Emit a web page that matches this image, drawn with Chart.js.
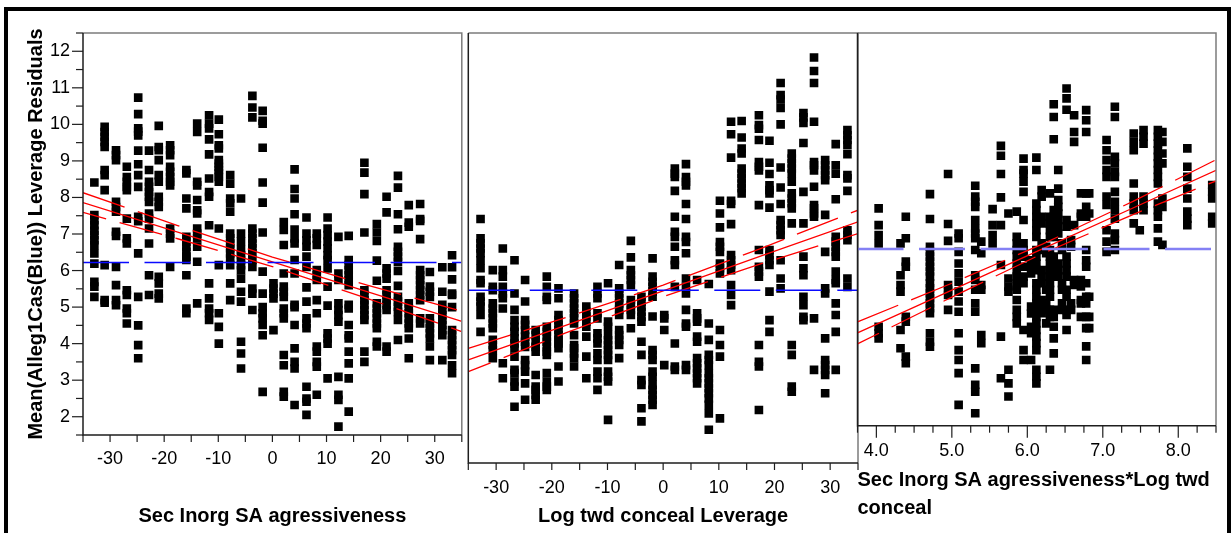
<!DOCTYPE html>
<html>
<head>
<meta charset="utf-8">
<script src="https://cdn.jsdelivr.net/npm/chart.js@4.4.1/dist/chart.umd.min.js"></script>
<style>
  html, body { margin: 0; padding: 0; background: #fff; }
  #page { position: relative; width: 1231px; height: 533px; overflow: hidden; background: #fff; }
  #outline { position: absolute; left: 4px; top: 7px; width: 1227px; height: 580px; box-sizing: border-box; border: 4px solid #000; }
  canvas { position: absolute; top: 0; }
</style>
</head>
<body>
<div id="page">
  <div id="outline"></div>
  <canvas id="aggr" width="475" height="533" style="left:0px;width:475px;height:533px"></canvas>
  <canvas id="conceal" width="440" height="533" style="left:440px;width:440px;height:533px"></canvas>
  <canvas id="inter" width="391" height="533" style="left:840px;width:391px;height:533px"></canvas>
</div>
<script>
// ---- Sec Inorg SA agressiveness: column positions and leverage residuals per column
const aggrX = [-32.9, -31.0, -28.9, -26.9, -24.8, -22.8, -21.0, -18.9, -15.9, -13.9, -11.7, -9.9, -7.8, -5.8, -3.7, -1.8,
  0.2, 2.1, 4.1, 6.3, 8.2, 10.2, 12.2, 14.1, 17.0, 19.3, 21.1, 23.2, 25.2, 27.3, 29.1, 31.4, 33.2];
const aggrY = [
  [8.41, 7.52, 7.38, 7.24, 7.09, 6.97, 6.83, 6.70, 6.47, 6.19, 5.69, 5.56, 5.28],
  [9.93, 9.79, 9.66, 9.52, 9.38, 8.75, 8.61, 8.20, 6.15, 5.19, 5.12],
  [9.29, 9.16, 9.02, 7.88, 7.74, 7.61, 7.06, 6.95, 6.10, 5.60, 5.19, 5.05],
  [8.84, 8.56, 8.43, 8.29, 8.20, 7.42, 6.88, 6.74, 5.46, 5.33, 4.96, 4.83, 4.55],
  [10.73, 10.28, 9.89, 9.80, 9.70, 9.28, 8.91, 8.61, 8.29, 7.47, 7.35, 6.47, 5.28, 4.50, 3.96, 3.60],
  [9.28, 8.75, 8.43, 8.29, 8.15, 8.02, 7.88, 7.56, 7.42, 7.15, 6.74, 5.87, 5.33],
  [9.96, 9.38, 9.29, 9.02, 8.61, 8.43, 8.02, 7.88, 7.74, 5.83, 5.65, 5.37, 5.24],
  [9.43, 9.29, 9.16, 8.84, 8.70, 8.56, 8.43, 8.33, 7.15, 7.01, 6.88, 6.10],
  [8.75, 8.66, 7.97, 7.70, 6.92, 6.79, 6.65, 6.51, 6.38, 6.29, 5.87, 4.96, 4.83],
  [10.02, 9.79, 8.43, 8.33, 7.93, 7.65, 7.56, 7.15, 7.01, 6.88, 6.65, 6.24, 5.10],
  [10.25, 10.02, 9.89, 9.59, 9.18, 8.52, 8.15, 8.02, 7.24, 5.65, 5.24, 4.96, 4.83, 4.65],
  [10.13, 9.73, 9.43, 9.34, 9.02, 8.93, 8.84, 8.75, 8.66, 8.56, 8.43, 7.15, 6.15, 4.83, 4.46, 4.00],
  [8.61, 8.38, 7.97, 7.84, 7.61, 7.01, 6.88, 6.74, 6.61, 6.47, 6.33, 6.15, 5.65, 5.19],
  [7.97, 7.01, 6.79, 6.56, 6.42, 6.29, 6.15, 6.01, 5.78, 5.42, 5.15, 4.05, 3.73, 3.32],
  [10.78, 10.46, 10.19, 7.15, 7.01, 6.88, 6.74, 6.61, 6.47, 6.29, 6.10, 5.51, 5.37, 4.92],
  [10.37, 10.10, 10.02, 9.36, 8.41, 7.86, 7.04, 5.97, 5.37, 5.00, 4.83, 4.69, 4.51, 4.23, 2.68],
  [5.65, 5.51, 5.37, 5.24, 4.37],
  [7.33, 7.11, 6.70, 5.92, 5.56, 5.42, 5.28, 4.96, 4.83, 4.69, 3.69, 3.41, 2.68, 2.55],
  [8.77, 8.23, 7.97, 7.54, 7.12, 6.88, 6.74, 6.29, 5.92, 5.06, 5.00, 4.51, 3.87, 3.50, 3.32, 2.32],
  [7.45, 7.01, 6.83, 6.65, 6.38, 6.10, 5.54, 5.15, 4.69, 4.55, 4.42, 2.82, 2.50, 2.41, 2.05],
  [7.01, 6.88, 6.70, 6.01, 5.87, 5.74, 5.19, 4.83, 3.92, 3.78, 3.50, 3.37, 2.60],
  [7.45, 7.15, 6.97, 6.79, 6.61, 6.42, 6.29, 6.06, 5.56, 5.04, 4.28, 4.14, 4.00, 3.05],
  [6.92, 5.92, 5.74, 5.10, 4.92, 4.78, 4.60, 3.09, 2.60, 2.46, 1.73],
  [6.95, 6.29, 6.15, 6.01, 5.87, 5.74, 5.60, 5.06, 4.96, 4.51, 4.23, 4.14, 3.78, 3.46, 3.05, 2.14],
  [8.95, 8.68, 8.09, 7.04, 5.46, 5.33, 5.19, 5.06, 4.92, 4.78, 4.65, 3.78, 3.50],
  [7.27, 7.04, 6.81, 6.27, 5.72, 5.10, 4.96, 4.83, 4.69, 4.55, 4.42, 4.05, 3.92],
  [8.02, 7.59, 6.06, 5.92, 5.78, 5.46, 5.33, 5.19, 5.06, 4.92, 3.92, 3.78],
  [8.59, 8.27, 7.54, 7.13, 6.65, 6.51, 6.38, 6.24, 5.99, 5.58, 5.28, 5.15, 5.01, 4.87, 4.65, 4.10],
  [7.79, 7.31, 7.20, 5.10, 4.96, 4.83, 4.69, 4.55, 4.42, 4.14, 3.60],
  [7.82, 7.41, 7.36, 6.86, 6.01, 5.87, 5.74, 5.60, 5.46, 5.33, 5.19, 4.69, 4.55],
  [5.96, 5.56, 5.42, 5.28, 4.69, 4.55, 4.42, 4.28, 4.14, 3.92, 3.55],
  [6.09, 5.42, 5.06, 4.92, 4.78, 4.65, 4.51, 4.37, 4.23, 3.55],
  [6.42, 6.09, 5.76, 5.37, 5.33, 5.00, 4.37, 4.23, 4.10, 3.96, 3.82, 3.69, 3.41, 3.19]
];
const aggrMean = 6.22;
const aggrFitX = [-35, -17.5, 0, 17.5, 35];
const aggrFit = [7.86, 7.05, 6.24, 5.42, 4.61];
const aggrUpper = [8.13, 7.23, 6.37, 5.60, 4.89];
const aggrLower = [7.59, 6.87, 6.11, 5.24, 4.33];

// ---- Log twd conceal Leverage
const concealX = [-32.8, -30.6, -28.8, -26.7, -24.8, -22.9, -20.9, -18.8, -16.0, -13.8, -11.8, -9.9, -7.9, -5.8, -3.9, -1.9,
  0.2, 2.1, 4.1, 6.1, 8.2, 10.2, 12.2, 14.1, 17.2, 19.1, 21.1, 23.1, 25.2, 27.1, 29.1, 31.0, 33.1];
const concealY = [
  [7.41, 6.88, 6.74, 6.60, 6.47, 6.28, 6.06, 5.74, 5.65, 5.28, 5.15, 5.01, 4.78, 4.32],
  [6.01, 5.55, 5.46, 5.10, 4.96, 4.83, 4.69, 4.55, 4.42, 4.10, 3.96, 3.82, 3.60],
  [6.60, 6.01, 5.83, 5.55, 5.37, 5.24, 4.96, 3.46, 3.05],
  [6.28, 5.37, 4.92, 4.64, 4.46, 4.32, 4.14, 4.00, 3.87, 3.64, 3.28, 3.19, 2.96, 2.82, 2.27],
  [5.74, 5.15, 4.64, 4.51, 4.37, 4.19, 4.05, 3.91, 3.55, 3.41, 3.23, 2.91, 2.46],
  [4.37, 4.23, 4.05, 3.91, 3.78, 3.14, 2.82, 2.73, 2.59, 2.46],
  [5.83, 5.55, 5.28, 5.19, 4.46, 4.32, 4.19, 4.05, 3.91, 3.78, 3.69, 3.19, 2.96, 2.82, 2.73],
  [5.51, 5.24, 4.78, 4.64, 4.51, 4.37, 4.23, 4.10, 4.00, 3.87, 3.37, 2.96],
  [5.37, 5.24, 5.10, 4.96, 4.83, 4.69, 4.55, 4.23, 3.96, 3.87, 3.73, 3.60, 3.37],
  [5.01, 4.87, 4.74, 4.60, 4.46, 4.19, 3.64, 3.05],
  [5.55, 5.37, 5.24, 4.83, 4.69, 4.28, 4.14, 4.00, 3.73, 3.55, 3.23, 3.05, 2.73],
  [5.65, 4.60, 4.46, 4.23, 4.09, 3.96, 3.82, 3.69, 3.55, 3.23, 3.09, 2.96, 1.91],
  [6.15, 5.51, 5.37, 5.24, 5.10, 4.92, 4.78, 4.37, 4.23, 4.10, 3.96, 3.60],
  [6.81, 6.36, 6.01, 5.87, 5.74, 5.60, 5.19, 5.05, 4.92, 4.78, 4.42],
  [5.28, 5.14, 5.01, 4.87, 4.73, 4.60, 4.05, 3.69, 3.00, 2.87, 2.23, 1.87],
  [6.33, 5.83, 5.69, 5.55, 5.42, 5.28, 4.74, 3.82, 3.69, 3.55, 3.23, 3.09, 2.87, 2.73, 2.59, 2.46, 2.32],
  [4.78, 4.69, 4.37, 3.41],
  [8.79, 8.65, 8.56, 8.18, 7.47, 7.06, 6.92, 6.65, 6.28, 6.15, 5.55, 4.00, 3.37, 3.28],
  [8.91, 8.56, 8.43, 8.33, 7.82, 7.41, 6.92, 6.78, 6.47, 5.78, 5.55, 5.37, 4.92, 4.55, 4.46, 3.41, 3.28],
  [5.74, 4.83, 4.69, 4.60, 4.19, 4.05, 3.60, 3.46, 3.32, 3.19, 3.05, 2.91],
  [5.63, 4.55, 4.10, 3.69, 3.55, 3.41, 3.19, 3.05, 2.91, 2.78, 2.64, 2.50, 2.32, 2.09, 1.64],
  [7.91, 7.56, 7.18, 6.78, 6.65, 6.51, 6.19, 6.06, 5.92, 4.37, 3.96, 3.64, 1.95],
  [10.07, 9.73, 9.09, 7.91, 7.82, 7.27, 6.42, 6.28, 6.15, 6.01, 5.60, 5.33, 5.05],
  [10.09, 9.64, 9.34, 9.20, 8.79, 8.65, 8.52, 8.38, 8.25, 8.11],
  [10.25, 9.98, 9.88, 9.57, 8.97, 8.84, 8.74, 7.79, 6.56, 6.10, 5.97, 5.83, 3.96, 3.50, 3.37, 2.18],
  [9.55, 8.95, 8.64, 8.33, 8.20, 8.11, 7.72, 6.56, 6.42, 6.28, 6.15, 5.42, 4.64, 4.32],
  [11.13, 10.80, 10.68, 10.45, 10.00, 8.82, 8.27, 7.82, 7.38, 7.24, 7.10, 6.97, 6.28, 5.78, 5.51],
  [9.20, 9.06, 8.93, 8.79, 8.65, 8.43, 8.11, 7.97, 7.84, 7.70, 7.29, 3.96, 3.69, 2.82, 2.68],
  [10.31, 10.19, 10.04, 9.49, 8.15, 7.29, 6.38, 6.06, 5.87, 5.28, 5.05, 4.73, 4.64],
  [11.83, 11.46, 11.13, 10.07, 8.97, 8.88, 8.74, 8.29, 7.79, 7.70, 7.56, 7.47, 4.69, 3.28],
  [9.02, 8.88, 8.74, 8.61, 8.47, 7.52, 6.51, 5.51, 5.37, 4.14, 3.55, 3.41, 3.28, 3.14, 2.64],
  [9.46, 8.88, 8.65, 7.95, 6.92, 6.79, 6.65, 6.51, 6.38, 5.97, 5.74, 5.65, 5.10, 4.78, 4.32, 3.28],
  [9.84, 9.70, 9.57, 9.43, 9.18, 8.61, 8.52, 8.18, 7.10, 6.97, 6.83, 5.78, 5.55]
];
const concealMean = 5.46;
const concealFitX = [-35, -17.5, 0, 17.5, 35];
const concealFit = [3.55, 4.50, 5.44, 6.39, 7.33];
const concealUpper = [3.87, 4.71, 5.60, 6.60, 7.65];
const concealLower = [3.23, 4.29, 5.28, 6.18, 7.01];

// ---- Sec Inorg SA agressiveness*Log twd conceal
const interX = [4.03, 4.32, 4.39, 4.71, 4.95, 5.09, 5.31, 5.39, 5.54, 5.65, 5.75, 5.86, 5.95, 6.05, 6.12, 6.19, 6.25,
  6.30, 6.35, 6.41, 6.46, 6.52, 6.58, 6.62, 6.71, 6.78, 6.82, 7.05, 7.16, 7.41, 7.49, 7.54, 7.73, 7.79, 8.12, 8.45];
const interY = [
  [7.70, 7.24, 6.97, 6.74, 4.46, 4.28, 4.14],
  [6.74, 5.87, 5.60, 5.42, 4.37, 3.87],
  [7.47, 6.88, 6.24, 6.10, 4.73, 4.60, 3.64, 3.46],
  [8.09, 7.41, 6.65, 6.51, 6.38, 6.24, 6.10, 5.97, 5.83, 5.65, 5.51, 5.38, 5.24, 5.10, 4.97, 4.83, 4.28, 4.05, 3.91],
  [8.64, 7.27, 6.81, 5.60, 5.46, 5.33, 4.92],
  [7.01, 6.88, 6.51, 6.19, 5.92, 5.69, 5.42, 5.15, 4.87, 4.28, 3.82, 3.55, 3.19, 2.32],
  [8.32, 8.02, 7.88, 7.74, 7.38, 7.15, 7.01, 6.88, 6.56, 5.87, 5.74, 5.47, 5.10, 4.87, 3.32, 2.87, 2.68, 2.09],
  [6.79, 6.47, 5.60, 5.47, 4.23, 4.01],
  [7.68, 7.24, 6.97, 6.74],
  [9.41, 9.14, 8.64, 8.00, 7.24, 6.15, 4.19, 3.05],
  [7.56, 5.78, 5.56, 5.42, 3.28, 2.91, 2.55],
  [7.61, 6.92, 6.74, 6.56, 6.38, 6.19, 6.01, 5.83, 5.65, 5.47, 5.19, 4.92, 4.73, 4.55],
  [9.06, 8.75, 8.65, 8.43, 8.15, 7.38, 6.74, 6.56, 6.38, 6.10, 5.83, 5.65, 4.37, 3.82, 3.55],
  [6.28, 6.10, 5.92, 5.01, 4.82, 4.46, 4.28, 3.55],
  [9.09, 8.75, 7.83, 7.65, 7.47, 7.29, 7.10, 6.92, 6.56, 6.38, 6.19, 6.01, 5.65, 5.47, 5.28, 5.10, 4.92, 4.73, 4.55, 4.37, 4.19, 4.01, 3.82, 3.28, 3.09, 2.91],
  [8.20, 8.02, 7.47, 7.29, 6.74, 6.56, 6.01, 5.83, 5.65, 5.19, 5.01, 4.83],
  [6.65, 6.47, 5.47, 5.10, 4.92, 4.55],
  [8.11, 7.47, 7.29, 7.10, 6.92, 6.56, 6.38, 6.19, 6.01, 5.83, 5.65, 5.47, 5.28, 4.92, 4.73, 3.28],
  [10.55, 10.20, 9.59, 7.65, 7.47, 6.92, 6.38, 6.19, 6.01, 4.92, 4.73, 4.46, 4.14, 3.73],
  [8.75, 8.24, 7.93, 7.74, 7.56, 7.38, 7.20, 7.01, 6.19, 6.01, 5.83],
  [6.74, 6.56, 5.65, 5.47, 5.10, 4.92],
  [10.98, 10.71, 10.40, 7.38, 7.20, 6.38, 6.19, 6.01, 5.83, 5.47, 5.28, 4.92, 4.78, 4.37],
  [6.83, 6.65, 5.10, 4.92],
  [10.25, 9.79, 9.52, 7.24, 5.74, 5.60],
  [8.11, 7.56, 7.47, 5.74, 5.56, 5.19, 5.10, 4.73],
  [10.39, 10.11, 9.79, 8.11, 7.74, 7.47, 6.56, 6.28, 6.10, 5.65, 5.28, 5.10, 4.73, 4.42, 3.92, 3.55],
  [8.11, 7.56, 5.28, 4.73, 4.42],
  [9.57, 9.29, 9.02, 8.75, 8.56, 8.02, 7.79, 7.10, 6.79, 6.51],
  [10.48, 10.20, 9.11, 8.93, 8.70, 8.56, 8.15, 7.88, 7.65, 7.42, 7.01, 6.83, 6.56],
  [9.75, 9.52, 9.29, 8.38, 8.02, 7.83, 7.65, 7.29],
  [7.10],
  [9.84, 9.66, 9.47, 8.02, 7.83, 7.65],
  [9.84, 9.66, 9.47, 9.29, 9.11, 8.93, 8.75, 8.56, 8.38, 7.83, 7.65, 7.47, 7.15, 6.79],
  [9.79, 9.52, 9.20, 8.93, 7.97, 7.74, 6.70],
  [9.34, 8.84, 8.56, 8.24, 7.97, 7.61, 7.42, 7.24],
  [8.34, 8.15, 7.97, 7.47, 7.29]
];
const interMean = 6.59;
const interFitX = [3.75, 5.0, 6.2, 7.4, 8.5];
const interFit = [4.29, 5.46, 6.59, 7.71, 8.74];
const interUpper = [4.59, 5.65, 6.72, 7.89, 9.03];
const interLower = [3.99, 5.27, 6.46, 7.53, 8.45];

const FONT = '"Liberation Sans", Arial, Helvetica, sans-serif';

function columnsToPoints(xs, ys) {
  const pts = [];
  xs.forEach((x, i) => ys[i].forEach(y => pts.push({ x: x, y: y })));
  return pts;
}
function curve(xs, ys) {
  return xs.map((x, i) => ({ x: x, y: ys[i] }));
}
function isMultiple(v, step) {
  return Math.abs(v - Math.round(v / step) * step) < 1e-6;
}

// Frame, axis lines and tick marks (major ticks longer than minor ones)
const panelFrame = {
  id: 'panelFrame',
  afterDatasetsDraw(chart, args, opts) {
    const { ctx, chartArea: a } = chart;
    const xs = chart.scales.x, ys = chart.scales.y;
    ctx.save();
    ctx.lineCap = 'butt';
    ctx.lineWidth = 1.5;
    ctx.strokeStyle = '#7c7c7c';
    ctx.beginPath();
    ctx.moveTo(a.left, a.top);
    ctx.lineTo(a.right, a.top);
    ctx.lineTo(a.right, a.bottom);
    ctx.stroke();
    ctx.strokeStyle = '#1e1e1e';
    ctx.beginPath();
    ctx.moveTo(a.left, a.top);
    ctx.lineTo(a.left, a.bottom);
    ctx.lineTo(a.right, a.bottom);
    ctx.stroke();
    ctx.lineWidth = 1.2;
    xs.ticks.forEach(t => {
      const px = xs.getPixelForValue(t.value);
      const len = (opts.xMajorStep && isMultiple(t.value, opts.xMajorStep)) ? opts.xMajorLen : opts.xLen;
      ctx.beginPath();
      ctx.moveTo(px, a.bottom);
      ctx.lineTo(px, a.bottom + len);
      ctx.stroke();
    });
    if (opts.yTicks) {
      ys.ticks.forEach(t => {
        const py = ys.getPixelForValue(t.value);
        const len = isMultiple(t.value, 1) ? 11 : 7;
        ctx.beginPath();
        ctx.moveTo(a.left - len, py);
        ctx.lineTo(a.left, py);
        ctx.stroke();
      });
    }
    ctx.restore();
  }
};

function makePanel(canvasId, p) {
  const lineBase = { showLine: true, pointRadius: 0, fill: false, tension: 0, order: 1 };
  const datasets = [
    Object.assign({ data: curve([p.xMin, p.xMax], [p.mean, p.mean]), borderColor: p.meanColor,
      borderWidth: p.meanWidth, borderDash: [46, 15.5] }, lineBase),
    Object.assign({ data: curve(p.fitX, p.fit), borderColor: '#ff0000', borderWidth: 1.3 }, lineBase),
    Object.assign({ data: curve(p.fitX, p.upper), borderColor: '#ff0000', borderWidth: 1.3,
      borderDash: [44, 14] }, lineBase),
    Object.assign({ data: curve(p.fitX, p.lower), borderColor: '#ff0000', borderWidth: 1.3,
      borderDash: [44, 14], borderDashOffset: 20 }, lineBase),
    { data: columnsToPoints(p.colX, p.colY), pointStyle: 'rect', pointRadius: 6.1, pointBorderWidth: 0,
      pointBackgroundColor: '#000', backgroundColor: '#000', showLine: false, order: 2 }
  ];
  return new Chart(document.getElementById(canvasId), {
    type: 'scatter',
    data: { datasets: datasets },
    plugins: [panelFrame],
    options: {
      responsive: false,
      animation: false,
      devicePixelRatio: 1,
      events: [],
      layout: { padding: p.padding },
      plugins: {
        legend: { display: false },
        tooltip: { enabled: false },
        panelFrame: { xLen: 7, xMajorLen: p.xMajorLen || 7, xMajorStep: p.xMajorStep || 0, yTicks: p.yShow }
      },
      scales: {
        x: {
          type: 'linear',
          min: p.xMin, max: p.xMax,
          grid: { display: false, drawTicks: false },
          border: { display: false },
          ticks: {
            stepSize: p.xStep, autoSkip: false, maxRotation: 0, minRotation: 0,
            padding: p.xLabelPad, color: '#000',
            font: { family: FONT, size: 18 },
            callback: p.xLabel
          },
          title: {
            display: true, text: p.xTitle, color: '#000', align: p.xTitleAlign || 'center',
            font: { family: FONT, size: 20, weight: 'bold', lineHeight: 1.4 },
            padding: { top: 0, bottom: p.xTitlePad }
          },
          afterFit: s => { s.height = p.xAxisHeight; }
        },
        y: {
          type: 'linear',
          display: p.yShow,
          min: p.yMin, max: p.yMax,
          grid: { display: false, drawTicks: false },
          border: { display: false },
          ticks: {
            stepSize: 0.5, autoSkip: false, padding: 13, color: '#000',
            font: { family: FONT, size: 18 },
            callback: v => isMultiple(v, 1) ? String(Math.round(v)) : ''
          },
          title: {
            display: p.yShow, text: 'Mean(Alleg1Cas(Blue)) Leverage Residuals', color: '#000',
            font: { family: FONT, size: 20, weight: 'bold', lineHeight: 1.4 },
            padding: { top: 22, bottom: 0 }
          },
          afterFit: s => { s.width = p.yShow ? 83 : 0; }
        }
      }
    }
  });
}

const tensLabel = v => (isMultiple(v, 10) && Math.abs(v) < 34) ? String(Math.round(v)) : '';

makePanel('aggr', {
  colX: aggrX, colY: aggrY, mean: aggrMean, fitX: aggrFitX, fit: aggrFit, upper: aggrUpper, lower: aggrLower,
  xMin: -35, xMax: 35, xStep: 5, xLabel: tensLabel, xLabelPad: 13.2,
  xTitle: 'Sec Inorg SA agressiveness', xTitlePad: 2.3, xAxisHeight: 98,
  yShow: true, yMin: 1.5, yMax: 12.5,
  meanColor: '#0a0aff', meanWidth: 1.5,
  padding: { left: 0, top: 33, right: 7, bottom: 0 }
});

makePanel('conceal', {
  colX: concealX, colY: concealY, mean: concealMean, fitX: concealFitX, fit: concealFit, upper: concealUpper, lower: concealLower,
  xMin: -35, xMax: 35, xStep: 5, xLabel: tensLabel, xLabelPad: 14.2,
  xTitle: 'Log twd conceal Leverage', xTitlePad: 2.3, xAxisHeight: 70,
  yShow: false, yMin: 0.73, yMax: 12.5,
  meanColor: '#0a0aff', meanWidth: 1.5,
  padding: { left: 28.3, top: 33, right: 22, bottom: 0 }
});

makePanel('inter', {
  colX: interX, colY: interY, mean: interMean, fitX: interFitX, fit: interFit, upper: interUpper, lower: interLower,
  xMin: 3.75, xMax: 8.5, xStep: 0.25, xLabelPad: 15,
  xLabel: v => isMultiple(v, 1) ? v.toFixed(1) : '',
  xMajorStep: 1, xMajorLen: 12,
  xTitle: ['Sec Inorg SA agressiveness*Log twd', 'conceal'], xTitleAlign: 'start', xTitlePad: 11, xAxisHeight: 107.3,
  yShow: false, yMin: 1.75, yMax: 12.5,
  meanColor: '#8480f4', meanWidth: 2.5,
  padding: { left: 17.5, top: 33, right: 13, bottom: 0 }
});
</script>
</body>
</html>
